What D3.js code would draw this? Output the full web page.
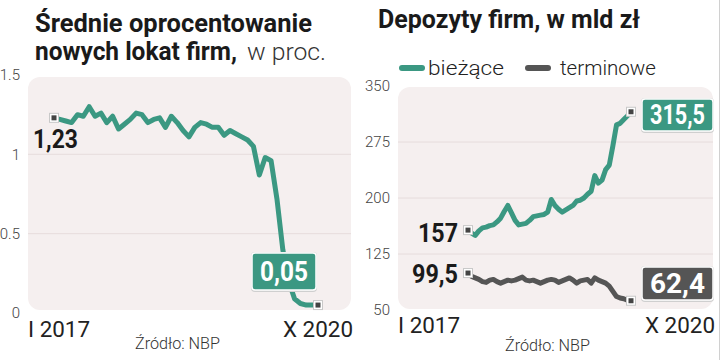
<!DOCTYPE html>
<html><head><meta charset="utf-8">
<script src="https://cdn.jsdelivr.net/npm/d3@7"></script>
<style>
body{margin:0;background:#fff;}
svg{display:block;font-family:Roboto, "Noto Sans", sans-serif;}
</style></head><body>
<svg id="c" width="721" height="360"></svg>
<script>
// ---- data ----
const months = d3.range(46); // I 2017 .. X 2020
const rate = [1.23,1.22,1.21,1.20,1.25,1.24,1.30,1.24,1.26,1.20,1.24,1.16,1.19,1.22,1.26,1.25,1.20,1.22,1.23,1.17,1.24,1.20,1.15,1.11,1.17,1.20,1.19,1.17,1.17,1.12,1.15,1.13,1.11,1.09,1.05,0.87,0.98,0.96,0.72,0.40,0.20,0.09,0.06,0.05,0.05,0.05];
const biezace = [157,153,150,156,160,161,163,164,168,173,182,190,180,170,164,165,166,170,175,176,177,178,181,198,190,185,181,184,187,190,196,197,200,205,209,230,220,224,238,244,270,298,300,305,310,315.5];
const terminowe = [99.5,95,93,91,88,87,90,91,88,86,88,90,89,90,92,94,90,89,90,88,86,88,90,91,90,87,89,91,93,90,86,89,90,91,86,93,90,88,86,82,75,68,66,65,63,62.4];
const leftTicks = [0,0.5,1,1.5];
const leftTickLabels = ["0","0.5","1","1.5"];
const rightTicks = [50,125,200,275,350];
const xLabels = ["I 2017","X 2020"];
const seriesNames = ["bieżące","terminowe"];

const TEAL = "#3b9882", GREY = "#555555", BG = "#f5efef", GRID = "#e6dcdc";
const svg = d3.select("#c");

svg.append("line").attr("x1",719.5).attr("x2",719.5).attr("y1",0).attr("y2",360).attr("stroke","#d0d0d0").attr("stroke-width",1);

function fitText(g,x,y,size,weight,fill,len,str,anchor){
  return g.append("text").attr("x",x).attr("y",y).attr("font-size",size).attr("font-weight",weight).attr("fill",fill)
   .attr("text-anchor",anchor||"start").attr("textLength",len).attr("lengthAdjust","spacingAndGlyphs").text(str);
}
function marker(g,x,y){
  g.append("rect").attr("x",x-4.5).attr("y",y-4.5).attr("width",9).attr("height",9)
   .attr("fill","#fff").attr("stroke","#c8c8c8").attr("stroke-width",1);
  g.append("rect").attr("x",x-2.5).attr("y",y-2.5).attr("width",5).attr("height",5).attr("fill","#444");
}
function valueBox(g,x,y,w,h,color,label){
  g.append("rect").attr("x",x-1).attr("y",y-1).attr("width",w+2).attr("height",h+3).attr("rx",4).attr("fill","#cfcfcf");
  g.append("rect").attr("x",x).attr("y",y).attr("width",w).attr("height",h).attr("rx",3).attr("fill",color).attr("stroke","#fff").attr("stroke-width",1.5);
  g.append("text").attr("x",x+w/2).attr("y",y+h/2+9).attr("text-anchor","middle").attr("fill","#fff")
   .attr("font-size",27).attr("font-weight",700).attr("textLength",w-16).attr("lengthAdjust","spacingAndGlyphs").text(label);
}

// ================= LEFT PANEL =================
const xL = d3.scaleLinear().domain([0,45]).range([54,318]);
const yL = d3.scaleLinear().domain([0,1.5]).range([313,75]);
const L = svg.append("g");

fitText(L,35,32,25,700,"#1a1a1a",277,"Średnie oprocentowanie");
fitText(L,35,60,25,700,"#1a1a1a",202,"nowych lokat firm,");
fitText(L,247,60,24,300,"#333",79,"w proc.");

L.append("rect").attr("x",28).attr("y",77).attr("width",323).attr("height",233).attr("rx",12).attr("fill",BG);
L.selectAll("line.grid").data([0.5,1]).join("line").attr("class","grid")
 .attr("x1",28).attr("x2",351).attr("y1",d=>yL(d)).attr("y2",d=>yL(d)).attr("stroke",GRID).attr("stroke-width",1);

const axL = d3.axisLeft(yL).tickValues(leftTicks).tickFormat((d,i)=>leftTickLabels[i]).tickSize(0).tickPadding(0);
const gAxL = L.append("g").attr("transform","translate(20,0)").call(axL);
gAxL.select(".domain").remove();
gAxL.selectAll("text").attr("font-size",15).attr("font-weight",300).attr("fill","#444").attr("font-family","Roboto");

L.append("path").datum(rate).attr("fill","none").attr("stroke",TEAL).attr("stroke-width",5)
 .attr("stroke-linejoin","round").attr("stroke-linecap","round")
 .attr("d",d3.line().x((d,i)=>xL(months[i])).y(d=>yL(d)));
marker(L,xL(0),yL(rate[0]));
marker(L,xL(45),yL(rate[45]));
fitText(L,33,148,25,700,"#1a1a1a",45,"1,23");
valueBox(L,252,253,64,37,TEAL,"0,05");

fitText(L,28,337,22,400,"#222",62,xLabels[0]);
fitText(L,283,337,22,400,"#222",70,xLabels[1]);
fitText(L,135,349,16,300,"#333",85,"Źródło: NBP");

// ================= RIGHT PANEL =================
const xR = d3.scaleLinear().domain([0,45]).range([468,631]);
const yR = d3.scaleLinear().domain([50,350]).range([310,86]);
const R = svg.append("g");

fitText(R,378,28,25,700,"#1a1a1a",262,"Depozyty firm, w mld zł");

const legend = [{name:seriesNames[0],color:TEAL,x:402,tx:428,w:76},{name:seriesNames[1],color:GREY,x:528,tx:560,w:96}];
legend.forEach(l=>{
  R.append("line").attr("x1",l.x).attr("x2",l.x+20).attr("y1",68).attr("y2",68).attr("stroke",l.color).attr("stroke-width",6).attr("stroke-linecap","round");
  fitText(R,l.tx,75,21,300,"#222",l.w,l.name);
});

R.append("rect").attr("x",398).attr("y",87).attr("width",315).attr("height",222).attr("rx",12).attr("fill",BG);
R.selectAll("line.grid").data([125,200,275]).join("line").attr("class","grid")
 .attr("x1",398).attr("x2",713).attr("y1",d=>yR(d)).attr("y2",d=>yR(d)).attr("stroke",GRID).attr("stroke-width",1);

const axR = d3.axisLeft(yR).tickValues(rightTicks).tickFormat(d3.format("d")).tickSize(0).tickPadding(0);
const gAxR = R.append("g").attr("transform","translate(390,0)").call(axR);
gAxR.select(".domain").remove();
gAxR.selectAll("text").attr("font-size",15).attr("font-weight",300).attr("fill","#444").attr("font-family","Roboto");

const lineR = d3.line().x((d,i)=>xR(months[i])).y(d=>yR(d));
R.append("path").datum(terminowe).attr("fill","none").attr("stroke",GREY).attr("stroke-width",5)
 .attr("stroke-linejoin","round").attr("stroke-linecap","round").attr("d",lineR);
R.append("path").datum(biezace).attr("fill","none").attr("stroke",TEAL).attr("stroke-width",5)
 .attr("stroke-linejoin","round").attr("stroke-linecap","round").attr("d",lineR);
marker(R,xR(0),yR(biezace[0]));
marker(R,xR(45),yR(biezace[45]));
marker(R,xR(0),yR(terminowe[0]));
marker(R,xR(45),yR(terminowe[45]));

fitText(R,418,242,26,700,"#1a1a1a",40,"157");
fitText(R,412,283,26,700,"#1a1a1a",46,"99,5");
valueBox(R,642,99,71,32,TEAL,"315,5");
valueBox(R,642,267,71,33,GREY,"62,4");

fitText(R,398,333,22,400,"#222",62,xLabels[0]);
fitText(R,645,333,22,400,"#222",70,xLabels[1]);
fitText(R,505,351,16,300,"#333",85,"Źródło: NBP");
</script></body></html>
